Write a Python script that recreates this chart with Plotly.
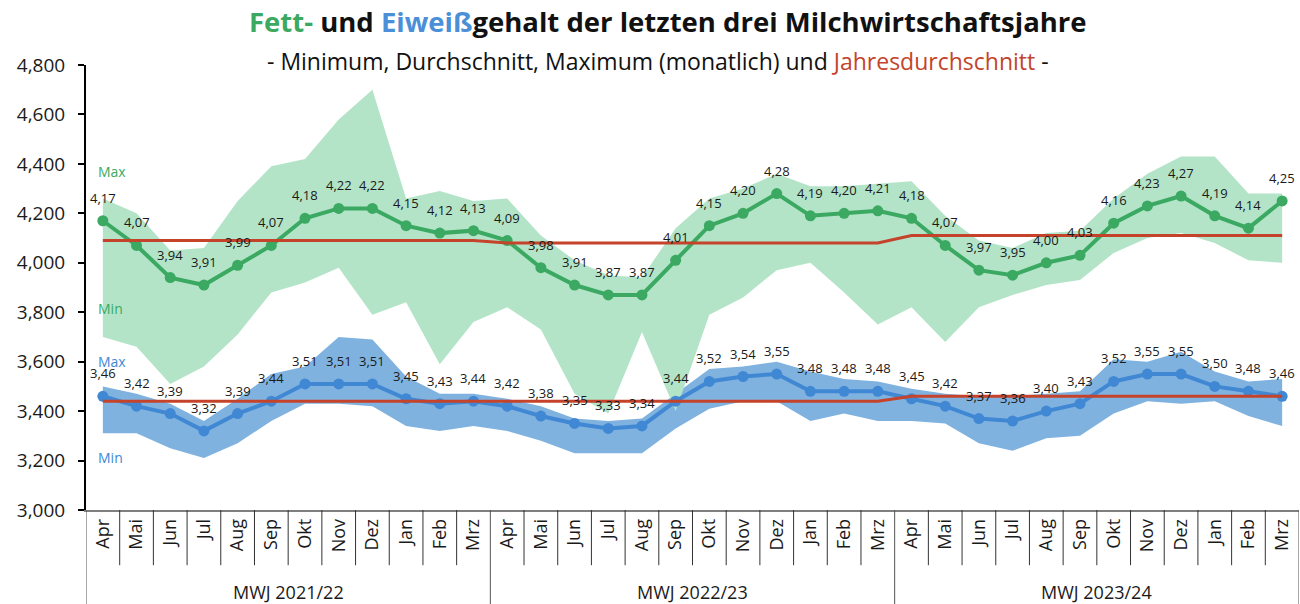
import plotly.graph_objects as go

months = ["Apr", "Mai", "Jun", "Jul", "Aug", "Sep", "Okt", "Nov", "Dez", "Jan", "Feb", "Mrz"]
years = ["MWJ 2021/22", "MWJ 2022/23", "MWJ 2023/24"]
cats = months * 3

fett_avg = [4.17, 4.07, 3.94, 3.91, 3.99, 4.07, 4.18, 4.22, 4.22, 4.15, 4.12, 4.13,
            4.09, 3.98, 3.91, 3.87, 3.87, 4.01, 4.15, 4.20, 4.28, 4.19, 4.20, 4.21,
            4.18, 4.07, 3.97, 3.95, 4.00, 4.03, 4.16, 4.23, 4.27, 4.19, 4.14, 4.25]
fett_max = [4.26, 4.20, 4.05, 4.06, 4.25, 4.39, 4.42, 4.58, 4.70, 4.26, 4.29, 4.25,
            4.26, 4.11, 4.01, 3.95, 3.94, 4.14, 4.26, 4.30, 4.36, 4.31, 4.31, 4.32,
            4.33, 4.19, 4.09, 4.06, 4.12, 4.13, 4.26, 4.36, 4.43, 4.43, 4.28, 4.28]
fett_min = [3.70, 3.66, 3.51, 3.58, 3.71, 3.88, 3.92, 3.98, 3.79, 3.84, 3.59, 3.76,
            3.82, 3.73, 3.47, 3.39, 3.72, 3.40, 3.79, 3.86, 3.97, 4.00, 3.88, 3.75,
            3.82, 3.68, 3.82, 3.87, 3.91, 3.93, 4.04, 4.10, 4.12, 4.08, 4.01, 4.00]
fett_year = [4.09] * 12 + [4.08] * 12 + [4.11] * 12

eiw_avg = [3.46, 3.42, 3.39, 3.32, 3.39, 3.44, 3.51, 3.51, 3.51, 3.45, 3.43, 3.44,
           3.42, 3.38, 3.35, 3.33, 3.34, 3.44, 3.52, 3.54, 3.55, 3.48, 3.48, 3.48,
           3.45, 3.42, 3.37, 3.36, 3.40, 3.43, 3.52, 3.55, 3.55, 3.50, 3.48, 3.46]
eiw_max = [3.50, 3.47, 3.43, 3.36, 3.45, 3.55, 3.58, 3.70, 3.69, 3.54, 3.47, 3.47,
           3.45, 3.42, 3.37, 3.36, 3.37, 3.47, 3.57, 3.58, 3.60, 3.56, 3.53, 3.52,
           3.49, 3.47, 3.46, 3.46, 3.47, 3.48, 3.61, 3.60, 3.64, 3.56, 3.52, 3.53]
eiw_min = [3.31, 3.31, 3.25, 3.21, 3.27, 3.36, 3.43, 3.43, 3.42, 3.34, 3.32, 3.34,
           3.32, 3.28, 3.23, 3.23, 3.23, 3.33, 3.41, 3.44, 3.44, 3.36, 3.39, 3.36,
           3.36, 3.35, 3.27, 3.24, 3.29, 3.30, 3.39, 3.44, 3.43, 3.44, 3.38, 3.34]
eiw_year = [3.44] * 12 + [3.44] * 12 + [3.46] * 12

y_ticks = [3000, 3200, 3400, 3600, 3800, 4000, 4200, 4400, 4600, 4800]

GREEN = "#3BA962"
GREEN_BAND = "#B3E4C8"
BLUE = "#4088D3"
BLUE_BAND = "#80B2E0"
RED = "#C4432A"
FONT = "Open Sans"

x = list(range(len(cats)))
k = lambda arr: [v * 1000 for v in arr]

fig = go.Figure()

# Eiweiß band
fig.add_trace(go.Scatter(x=x, y=k(eiw_min), mode="lines", line=dict(width=0), hoverinfo="skip", showlegend=False))
fig.add_trace(go.Scatter(x=x, y=k(eiw_max), mode="lines", line=dict(width=0), fill="tonexty",
                         fillcolor=BLUE_BAND, hoverinfo="skip", showlegend=False))
# Fett band
fig.add_trace(go.Scatter(x=x, y=k(fett_min), mode="lines", line=dict(width=0), hoverinfo="skip", showlegend=False))
fig.add_trace(go.Scatter(x=x, y=k(fett_max), mode="lines", line=dict(width=0), fill="tonexty",
                         fillcolor=GREEN_BAND, hoverinfo="skip", showlegend=False))
# averages
fig.add_trace(go.Scatter(x=x, y=k(fett_avg), mode="lines+markers", line=dict(color=GREEN, width=4),
                         marker=dict(color=GREEN, size=11), showlegend=False))
fig.add_trace(go.Scatter(x=x, y=k(eiw_avg), mode="lines+markers", line=dict(color=BLUE, width=4),
                         marker=dict(color=BLUE, size=11), showlegend=False))
# yearly averages
fig.add_trace(go.Scatter(x=x, y=k(fett_year), mode="lines", line=dict(color=RED, width=3), showlegend=False))
fig.add_trace(go.Scatter(x=x, y=k(eiw_year), mode="lines", line=dict(color=RED, width=3), showlegend=False))

annotations = []
for series in (fett_avg, eiw_avg):
    for i, v in enumerate(series):
        annotations.append(dict(x=i, y=v * 1000, xref="x", yref="y", text=f"{v:.2f}".replace(".", ","),
                                showarrow=False, yshift=23, font=dict(family=FONT, size=13, color="#1a1a1a")))

# group labels
for j, yl in enumerate(years):
    annotations.append(dict(x=j * 12 + 5.5, y=-0.185, xref="x", yref="paper", text=yl, showarrow=False,
                            yanchor="middle", font=dict(family=FONT, size=18, color="#1a1a1a")))

# Max / Min labels
for txt, yp, col in (("Max", 0.7596, GREEN), ("Min", 0.4539, GREEN), ("Max", 0.3348, BLUE), ("Min", 0.1169, BLUE)):
    annotations.append(dict(x=0.008, y=yp, xref="paper", yref="paper", text=txt, showarrow=False,
                            xanchor="left", yanchor="middle", font=dict(family=FONT, size=14, color=col)))

# title and subtitle
annotations.append(dict(x=0.48, y=1.097, xref="paper", yref="paper", showarrow=False, yanchor="middle",
                        text=f"<b><span style='color:{GREEN}'>Fett-</span> und <span style='color:#4A8FD8'>Eiweiß</span>gehalt der letzten drei Milchwirtschaftsjahre</b>",
                        font=dict(family=FONT, size=27.5, color="#111111")))
annotations.append(dict(x=0.4716, y=1.008, xref="paper", yref="paper", showarrow=False, yanchor="middle",
                        text=f"- Minimum, Durchschnitt, Maximum (monatlich) und <span style='color:{RED}'>Jahresdurchschnitt</span> -",
                        font=dict(family=FONT, size=23, color="#111111")))

shapes = []
n = len(cats)
for b in range(n + 1):
    is_year = (b % 12 == 0)
    shapes.append(dict(type="line", xref="x", yref="paper", x0=b - 0.5, x1=b - 0.5, y0=0,
                       y1=-0.212 if is_year else -0.124,
                       line=dict(color="#333333" if not is_year else "#555555", width=1)))

fig.update_layout(
    width=1300, height=604,
    margin=dict(l=86, r=1, t=65, b=94),
    paper_bgcolor="white", plot_bgcolor="white",
    annotations=annotations, shapes=shapes,
    xaxis=dict(range=[-0.5, n - 0.5], tickmode="array", tickvals=x, ticktext=cats, tickangle=-90,
               showgrid=False, zeroline=False, showline=True, linecolor="#7f7f7f", linewidth=1.5,
               ticks="", tickfont=dict(family=FONT, size=18, color="#1a1a1a")),
    yaxis=dict(range=[3000, 4800], tickvals=y_ticks, tickformat=",d", showgrid=False, zeroline=False,
               showline=True, linecolor="black", linewidth=2, ticks="outside", ticklen=6, tickwidth=2,
               tickcolor="black", ticklabelstandoff=9, tickfont=dict(family=FONT, size=19, color="#1a1a1a")),
    font=dict(family=FONT),
)

fig.write_html("out.html", config={"displayModeBar": False},
               post_script="document.body.style.margin='0';document.body.style.overflow='hidden';")
